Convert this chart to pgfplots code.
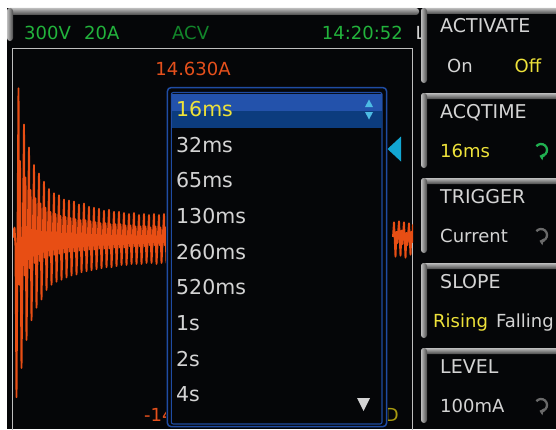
\documentclass[border=0pt]{standalone}
\usepackage{pgfplots}
\pgfplotsset{compat=1.18}
\usetikzlibrary{arrows.meta}
\usepackage{fontspec}
\setmainfont{DejaVu Sans}
\definecolor{bg}{HTML}{050608}
\definecolor{bzL}{HTML}{BDBDBD}
\definecolor{bzD}{HTML}{4A4A4A}
\definecolor{frm}{HTML}{BEBEBE}
\definecolor{grn}{HTML}{22B33C}
\definecolor{dgrn}{HTML}{12852A}
\definecolor{org}{HTML}{E5501C}
\definecolor{wave}{HTML}{E84E14}
\definecolor{ltg}{HTML}{D4D4D4}
\definecolor{yel}{HTML}{EEE23A}
\definecolor{dyel}{HTML}{A89A10}
\definecolor{mblue}{HTML}{1F4CA3}
\definecolor{selA}{HTML}{2352AB}
\definecolor{selB}{HTML}{0C3C7E}
\definecolor{cyn}{HTML}{12A6D2}
\definecolor{arr}{HTML}{4DBCE4}
\definecolor{icg}{HTML}{20B050}
\definecolor{icy}{HTML}{6A6A6A}
\newcommand\fs[1]{\fontsize{#1bp}{#1bp}\selectfont}
\newcommand\btn[1]{%
  \shade[top color=bzL, bottom color=bzD, rounded corners=3pt] (421,{423-#1}) -- (421,{429-#1}) -- (560,{429-#1}) -- (560,{423-#1}) -- cycle;
  \shade[left color=bzL, right color=bzD, rounded corners=3pt] (421,{354-#1}) -- (421,{429-#1}) -- (427,{429-#1}) -- (427,{354-#1}) -- cycle;
}
\newcommand\icon[3]{%
  \draw[#3, line width=2.3bp, -{Triangle[length=4bp, width=7bp]}] (#1,#2) ++(140:6) arc[start angle=140, end angle=-105, radius=6];
}
\begin{document}
\begin{tikzpicture}[x=1bp,y=1bp]
\useasboundingbox (0,0) rectangle (556,429);
\clip (0,0) rectangle (556,429);
\fill[white] (0,0) rectangle (556,429);
\fill[bg] (7,0) rectangle (556,421);
% status bar bezel
\shade[top color=bzL, bottom color=bzD, rounded corners=3pt] (7,414) -- (7,421) -- (419,421) -- (419,414) -- cycle;
\shade[left color=bzL, right color=bzD, rounded corners=3pt] (7,388) -- (7,421) -- (13,421) -- (13,388) -- cycle;
% status texts
\node[inner sep=0pt, anchor=base west, text=grn, font={\fs{18}}] at (24,389) {300V};
\node[inner sep=0pt, anchor=base west, text=grn, font={\fs{18}}] at (84,389) {20A};
\node[inner sep=0pt, anchor=base west, text=dgrn, font={\fs{18}}] at (172,389) {ACV};
\node[inner sep=0pt, anchor=base east, text=grn, font={\fs{18}}] at (403,389) {14:20:52};
\node[inner sep=0pt, anchor=base west, text=ltg, font={\fs{18}}] at (415.5,389) {L};
% plot frame
\draw[frm, line width=1.2bp] (12.5,-2) -- (12.5,380.5) -- (412.5,380.5) -- (412.5,-2);
% scale labels
\node[inner sep=0pt, anchor=base, text=org, font={\fs{18}}] at (193,354) {14.630A};
\node[inner sep=0pt, anchor=base west, text=org, font={\fs{18}}] at (144,8) {-14.630A};
\node[inner sep=0pt, anchor=base east, text=dyel, font={\fs{18}}] at (399,8) {D};
% waveform
\begin{axis}[at={(13bp,0bp)}, anchor=south west, scale only axis, width=400bp, height=380bp,
  xmin=0, xmax=16, ymin=-18.17, ymax=18.37, xtick=\empty, ytick=\empty,
  axis line style={draw=none}, hide axis, clip=true]
\addplot[wave, line width=1.9bp, line join=round, mark=none] coordinates {
(0.00,1.1)(0.03,0.3)(0.06,1.2)(0.10,-0.6)(0.14,-15.1)(0.22,14.6)
(0.25,-4.3)(0.28,7.6)(0.34,-12.3)(0.44,11.1)
(0.47,-3.4)(0.50,6.0)(0.54,-9.6)(0.64,8.9)
(0.67,-2.7)(0.70,4.8)(0.74,-7.7)(0.84,7.2)
(0.87,-2.2)(0.90,4.0)(0.94,-6.5)(1.04,6.4)
(1.07,-2.0)(1.10,3.5)(1.14,-5.7)(1.24,5.6)
(1.27,-1.7)(1.30,3.1)(1.34,-4.8)(1.44,4.9)
(1.47,-1.5)(1.50,2.7)(1.54,-4.3)(1.64,4.5)
(1.67,-1.4)(1.70,2.5)(1.74,-4.0)(1.84,4.3)
(1.87,-1.3)(1.90,2.3)(1.94,-3.8)(2.04,3.9)
(2.07,-1.2)(2.10,2.2)(2.14,-3.6)(2.24,3.8)
(2.27,-1.1)(2.30,2.1)(2.34,-3.4)(2.44,3.7)
(2.47,-1.1)(2.50,2.0)(2.54,-3.3)(2.64,3.4)
(2.67,-1.0)(2.70,1.9)(2.74,-3.1)(2.84,3.5)
(2.87,-1.0)(2.90,1.9)(2.94,-3.0)(3.04,3.2)
(3.07,-0.9)(3.10,1.8)(3.14,-2.9)(3.24,3.1)
(3.27,-0.9)(3.30,1.7)(3.34,-2.8)(3.44,3.0)
(3.47,-0.8)(3.50,1.6)(3.54,-2.7)(3.64,2.8)
(3.67,-0.8)(3.70,1.6)(3.74,-2.6)(3.84,2.9)
(3.87,-0.8)(3.90,1.5)(3.94,-2.6)(4.04,2.7)
(4.07,-0.7)(4.10,1.5)(4.14,-2.5)(4.24,2.7)
(4.27,-0.7)(4.30,1.5)(4.34,-2.4)(4.44,2.6)
(4.47,-0.7)(4.50,1.4)(4.54,-2.4)(4.64,2.5)
(4.67,-0.6)(4.70,1.4)(4.74,-2.3)(4.84,2.6)
(4.87,-0.6)(4.90,1.3)(4.94,-2.3)(5.04,2.4)
(5.07,-0.6)(5.10,1.3)(5.14,-2.3)(5.24,2.5)
(5.27,-0.6)(5.30,1.3)(5.34,-2.2)(5.44,2.4)
(5.47,-0.5)(5.50,1.2)(5.54,-2.2)(5.64,2.5)
(5.67,-0.5)(5.70,1.3)(5.74,-2.3)(5.84,2.4)
(5.87,-0.5)(5.90,1.2)(5.94,-2.2)(6.04,2.5)
(6.07,-0.5)(6.10,1.2)(6.14,-2.2)(6.24,2.4)
(6.27,-0.5)(6.30,1.2)
};
\addplot[wave, line width=1.9bp, line join=round, mark=none] coordinates {
(15.20,0.3)(15.24,1.7)(15.30,-1.6)(15.34,0.8)(15.37,-0.3)
(15.44,1.8)(15.50,-1.5)(15.54,0.9)(15.57,-0.4)
(15.64,1.7)(15.70,-1.7)(15.74,0.7)(15.77,-0.5)
(15.84,1.6)(15.90,-1.4)(15.94,0.8)(15.97,-0.2)(16.00,1.5)
};
\end{axis}
% drop-down menu
\fill[bg] (166,0) rectangle (388,343);
\draw[mblue, line width=1.5bp, rounded corners=4pt] (167.3,2.3) rectangle (386.7,341.5);
\draw[mblue, line width=1.1bp, rounded corners=2pt] (171.3,5) rectangle (382,336.5);
\fill[selA] (172,318.5) rectangle (381.5,335.5);
\fill[selB] (172,301) rectangle (381.5,318.5);
\fill[arr] (365,322) -- (373,322) -- (369,329.5) -- cycle;
\fill[arr] (365,317) -- (373,317) -- (369,309.5) -- cycle;
\fill[ltg] (357,31) -- (370,31) -- (363.5,18) -- cycle;
\node[inner sep=0pt, anchor=base west, text=yel, font={\fs{20.5}}] at (176,313) {16ms};
\foreach \t/\y in {32ms/277, 65ms/242, 130ms/206, 260ms/170, 520ms/135, 1s/99, 2s/63, 4s/28}
  \node[inner sep=0pt, anchor=base west, text=ltg, font={\fs{20.5}}] at (176,\y) {\t};
\fill[cyn] (387.5,280) -- (401,292.5) -- (401,267.5) -- cycle;
% soft-key buttons
\btn{8}\btn{93}\btn{178}\btn{263}\btn{348}
\node[inner sep=0pt, anchor=base west, text=ltg, font={\fs{19}}] at (440,396) {ACTIVATE};
\node[inner sep=0pt, anchor=base west, text=ltg, font={\fs{18}}] at (447,357) {On};
\node[inner sep=0pt, anchor=base west, text=yel, font={\fs{18}}] at (514.5,357) {Off};
\node[inner sep=0pt, anchor=base west, text=ltg, font={\fs{19}}] at (440,311) {ACQTIME};
\node[inner sep=0pt, anchor=base west, text=yel, font={\fs{18}}] at (440,272) {16ms};
\icon{541}{279}{icg}
\node[inner sep=0pt, anchor=base west, text=ltg, font={\fs{19}}] at (440,226) {TRIGGER};
\node[inner sep=0pt, anchor=base west, text=ltg, font={\fs{18}}] at (440,187) {Current};
\icon{541}{194}{icy}
\node[inner sep=0pt, anchor=base west, text=ltg, font={\fs{19}}] at (440,141) {SLOPE};
\node[inner sep=0pt, anchor=base west, text=yel, font={\fs{18}}] at (433,102) {Rising};
\node[inner sep=0pt, anchor=base west, text=ltg, font={\fs{18}}] at (496,102) {Falling};
\node[inner sep=0pt, anchor=base west, text=ltg, font={\fs{19}}] at (440,56) {LEVEL};
\node[inner sep=0pt, anchor=base west, text=ltg, font={\fs{18}}] at (440,17) {100mA};
\icon{541}{24}{icy}
\end{tikzpicture}
\end{document}
